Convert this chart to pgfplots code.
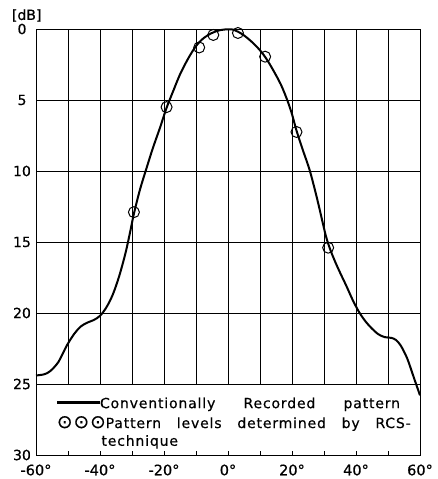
\documentclass[border=0pt]{standalone}
\usepackage{fontspec}
\setmainfont{DejaVu Sans}[FakeBold=0.5]
\newfontfamily\legendfont{DejaVu Sans}[LetterSpace=6, FakeBold=0.5]
\usepackage{pgfplots}
\pgfplotsset{compat=1.18}

% conventionally recorded pattern (angle in deg, level in dB below peak)
\pgfplotstableread{
x y
-60 24.4
-57.5 24.32
-55.6 24.1
-53 23.45
-50.4 22.3
-48 21.45
-46 20.95
-44 20.68
-42 20.5
-40 20.2
-38 19.6
-36 18.7
-34 17.4
-32 15.75
-30.5 14.2
-29.4 13.0
-27.5 11.3
-25.6 9.9
-23.5 8.4
-21.25 6.95
-19.2 5.55
-17 4.3
-15 3.2
-12.5 2.1
-10 1.2
-7.5 0.62
-5 0.28
-2.5 0.08
0 0.02
1.5 0.04
3.2 0.2
5 0.45
7.5 0.92
10 1.5
12 2.1
14 2.85
16.5 3.9
18.5 5.0
20 6.0
21.4 7.15
23.5 8.6
25.6 10.0
28 12.1
30.5 14.5
31.9 15.5
33.5 16.4
35 17.15
37 18.1
39 19.1
41 19.95
43 20.6
45 21.1
47 21.5
49 21.7
51 21.75
52.5 21.9
54 22.3
56 23.2
58 24.5
60 25.8
}\recorded

% RCS technique levels
\pgfplotstableread{
x y
-29.4 12.9
-19.2 5.5
-9.0 1.3
-4.6 0.42
3.1 0.28
11.6 1.95
21.4 7.25
31.3 15.4
}\rcs

\begin{document}
\begin{tikzpicture}
\begin{axis}[
  scale only axis,
  width=384pt, height=426pt,
  xmin=-60, xmax=60, ymin=0, ymax=30,
  y dir=reverse,
  clip=false,
  axis line style={line width=1pt},
  xtick={-60,-40,...,60},
  xticklabels={-60°,-40°,-20°,0°,20°,40°,60°},
  minor xtick={-50,-30,-10,10,30,50},
  ytick={0,5,...,30},
  xtick pos=bottom, ytick pos=left,
  major tick length=4pt, minor tick length=4pt,
  xtick style={line width=0.9pt, black},
  minor tick style={line width=0.9pt, black},
  ytick style={draw=none},
  xticklabel style={font=\fontsize{14.5}{16}\selectfont, anchor=center, yshift=-15pt, inner sep=0pt},
  yticklabel style={font=\fontsize{14}{16}\selectfont, anchor=center, xshift=-14pt, inner sep=0pt},
  /pgf/number format/assume math mode=true,
]
% grid, only above the legend area
\pgfplotsinvokeforeach{-50,-40,...,50}{
  \draw[line width=0.9pt] (axis cs:#1,0) -- (axis cs:#1,25);
}
\pgfplotsinvokeforeach{5,10,...,25}{
  \draw[line width=0.9pt] (axis cs:-60,#1) -- (axis cs:60,#1);
}

\addplot[black, line width=2pt, smooth, tension=0.5] table {\recorded};
\addplot[black, only marks, mark=o, mark size=5.5pt, mark options={line width=1pt}] table {\rcs};

\node[inner sep=0pt, font=\fontsize{14}{16}\selectfont] at (axis cs:-62.9,-0.95) {[dB]};

% legend
\node[anchor=base west, inner sep=0pt, font=\legendfont\fontsize{14}{16}\selectfont] at (axis cs:-53.5,26.7)
  {\rule[4.6pt]{43pt}{2.2pt}\makebox[300pt][s]{Conventionally Recorded pattern}};
\node[anchor=base west, inner sep=0pt, font=\legendfont\fontsize{14}{16}\selectfont] at (axis cs:-53.5,28.1)
  {{\fontsize{18.5}{18}\selectfont ⊙⊙⊙}\makebox[305pt][s]{Pattern levels determined by RCS-}};
\node[anchor=base west, inner sep=0pt, font=\legendfont\fontsize{14}{16}\selectfont] at (axis cs:-39.6,29.35)
  {technique};
\end{axis}
\pgfresetboundingbox
\path (-36pt,-24pt) rectangle (401pt,455pt);
\end{tikzpicture}
\end{document}
